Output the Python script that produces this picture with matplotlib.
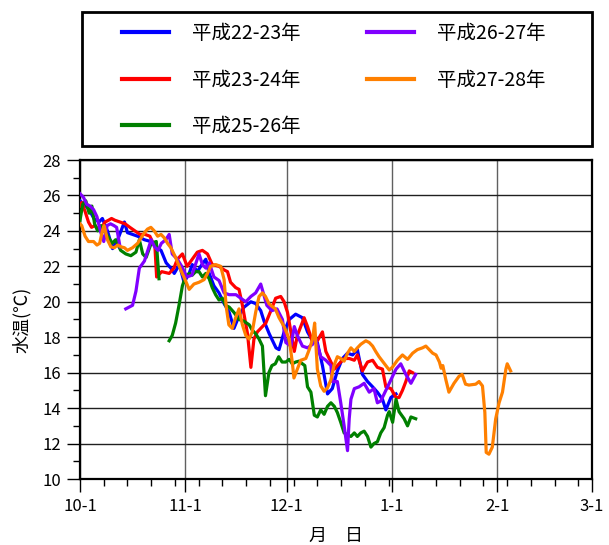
import numpy as np
import matplotlib
matplotlib.use('Agg')
import matplotlib.pyplot as plt
from matplotlib.lines import Line2D
from matplotlib.patches import Rectangle

plt.rcParams['font.family'] = ['Noto Sans CJK JP', 'DejaVu Sans']

# water temperature (deg C), x = days counted from 10-1, nan = missing days
h22_23 = [(0, 25.7), (1.2, 25.5), (2.7, 25.2), (4.1, 24.7), (5.6, 24.5), (6.6, 24.7),
          (8.1, 24.0), (9.6, 23.0), (11.1, 23.5), (13.1, 24.5), (14.0, 23.9), (15.5, 23.8),
          (17.0, 23.7), (19.0, 23.5), (20.9, 23.4), (22.4, 23.1), (23.9, 22.9), (25.4, 22.2),
          (26.8, 21.9), (27.8, 21.6), (29.3, 22.1), (30.7, 21.1), (32.2, 21.6), (33.1, 22.1),
          (34.6, 21.7), (35.6, 22.0), (37.1, 22.4), (38.1, 21.6), (39.5, 20.9), (41.0, 20.5),
          (42.5, 19.9), (44.0, 19.4), (45.4, 18.5), (46.9, 19.2), (48.4, 19.7), (50.4, 20.0),
          (51.8, 19.9), (53.3, 19.5), (54.3, 18.9), (55.8, 18.2), (57.8, 17.4), (58.7, 17.3),
          (60.2, 18.3), (61.7, 19.0), (63.6, 19.3), (65.6, 19.1), (67.1, 18.3), (68.6, 17.8),
          (70.0, 17.7), (71.5, 16.4), (73.0, 14.8), (74.4, 15.1), (75.9, 16.1), (77.4, 16.8),
          (78.9, 17.1), (80.4, 17.0), (81.8, 17.3), (83.3, 15.9), (84.8, 15.5), (86.3, 15.2),
          (87.7, 14.9), (89.2, 14.5), (90.2, 13.9), (91.7, 14.6), (93.2, 14.8)]

h23_24 = [(0, 25.4), (0.5, 25.6), (1.5, 25.1), (2.5, 24.5), (3.4, 24.2), (4.4, 24.3),
          (5.4, 24.1), (6.4, 24.2), (7.4, 24.5), (8.4, 24.6), (9.3, 24.7), (10.3, 24.6),
          (11.8, 24.5), (13.3, 24.4), (14.7, 24.2), (16.2, 24.0), (17.7, 23.8), (19.2, 23.8),
          (20.6, 23.7), (22.1, 23.1), (22.6, 21.4), (24.1, 21.7), (26.3, 21.6), (27.7, 21.9),
          (28.7, 22.4), (30.2, 22.7), (31.6, 22.0), (33.1, 22.4), (34.6, 22.8), (36.1, 22.9),
          (37.6, 22.7), (39.0, 22.1), (41.0, 22.0), (42.5, 21.8), (43.5, 21.7), (44.4, 21.1),
          (45.9, 20.8), (46.9, 20.7), (47.9, 19.8), (49.4, 18.2), (50.4, 16.3), (51.3, 17.9),
          (52.3, 18.3), (53.8, 18.6), (54.8, 18.8), (56.3, 19.5), (57.7, 20.2), (59.2, 20.3),
          (60.2, 20.0), (61.2, 19.4), (62.2, 18.3), (63.2, 17.2), (64.1, 18.1), (65.1, 18.6),
          (66.1, 19.1), (67.1, 18.6), (68.6, 17.7), (70.0, 17.8), (71.5, 18.3), (72.5, 17.2),
          (74.0, 16.6), (75.0, 16.2), (76.4, 16.5), (77.9, 16.8), (79.4, 16.8), (80.9, 16.7),
          (81.8, 17.0), (83.3, 16.1), (84.8, 16.6), (86.3, 16.7), (87.7, 16.3), (89.2, 16.2),
          (90.2, 15.2), (91.7, 15.1), (93.2, 14.6), (94.1, 14.6), (95.1, 15.0), (96.1, 15.5),
          (97.1, 16.1), (98.1, 16.0)]

h25_26 = [(0, 24.6), (0.8, 25.5), (1.7, 25.7), (2.7, 25.0), (3.5, 25.4), (4.3, 24.4),
          (5.2, 24.0), (6.2, 24.3), (7.5, 23.9), (9.5, 23.3), (10.5, 23.5), (12.0, 22.9),
          (13.5, 22.7), (15.0, 22.6), (16.5, 22.8), (17.5, 23.5), (18.5, 22.7), (19.5, 22.5),
          (21.0, 23.3), (22.5, 23.4), (23.3, 21.3), (24.8, np.nan),
          (26.3, 17.8), (27.2, 18.1), (28.2, 18.8), (29.2, 19.8), (30.2, 20.9), (31.1, 21.4),
          (32.2, 21.6), (33.1, 21.5), (34.1, 21.7), (35.1, 21.7), (36.1, 21.4), (37.1, 21.6),
          (38.1, 21.3), (39.0, 20.8), (40.0, 20.4), (41.0, 20.1), (42.0, 20.2), (42.9, 19.8),
          (44.0, 19.7), (45.4, 19.4), (46.9, 19.0), (48.4, 18.9), (49.9, 18.7), (50.8, 18.4),
          (51.8, 18.2), (52.8, 17.9), (53.8, 17.5), (54.7, 14.7), (55.7, 16.0), (56.6, 16.4),
          (57.6, 16.5), (58.6, 16.9), (59.6, 16.6), (60.7, 16.6), (61.7, 16.75), (62.6, 16.5),
          (63.6, 16.6), (64.6, 16.65), (65.6, 16.5), (66.3, 16.4), (67.1, 15.2), (68.1, 14.9),
          (69.1, 13.6), (70.0, 13.5), (71.0, 13.9), (72.0, 13.65), (73.0, 14.1), (74.0, 14.3),
          (75.0, 14.1), (75.9, 13.75), (76.9, 13.2), (77.9, 12.6), (78.9, 12.5), (79.9, 12.4),
          (80.9, 12.6), (81.8, 12.4), (82.8, 12.6), (83.8, 12.7), (84.8, 12.4), (85.8, 11.8),
          (86.7, 12.0), (87.7, 12.1), (88.7, 12.6), (89.7, 12.9), (90.7, 13.6), (91.2, 13.8),
          (92.2, 13.2), (93.2, 14.5), (94.1, 13.8), (95.6, 13.4), (96.6, 13.0), (97.6, 13.5),
          (99.0, 13.4)]

h26_27 = [(0, 26.1), (1, 25.9), (2, 25.5), (3, 25.4), (4, 25.2), (5, 24.8), (6, 24.0),
          (7, 23.4), (8, 24.3), (9, 24.4), (10, 24.3), (10.8, 24.2), (11.8, 23.1), (12.6, np.nan),
          (13.5, 19.6), (14.5, 19.7), (15.5, 19.8), (16.5, 20.6), (17.5, 21.9), (19.0, 22.3),
          (20.0, 22.9), (21.0, 23.5), (22.0, 23.1), (23.0, 22.9), (24.0, 23.3), (25.3, 23.5),
          (26.3, 23.8), (27.2, 22.7), (28.7, 22.4), (30.0, 22.0), (31.5, 21.4), (33.0, 21.5),
          (35.1, 22.7), (36.1, 22.1), (37.1, 21.9), (38.1, 22.2), (39.5, 21.4), (41.0, 21.2),
          (42.5, 20.5), (44.0, 20.4), (46.0, 20.4), (47.4, 20.2), (48.9, 20.0), (50.4, 20.3),
          (51.8, 20.5), (53.3, 21.0), (54.2, 20.4), (55.1, 19.8), (56.6, 19.5), (58.1, 19.6),
          (59.7, 19.0), (60.7, 17.7), (62.2, 17.5), (63.2, 18.6), (64.1, 18.1), (65.6, 17.5),
          (67.1, 17.4), (68.6, 17.6), (69.5, 17.9), (71.0, 16.9), (72.5, 16.7), (74.0, 16.4),
          (74.4, 15.5), (75.9, 15.5), (76.9, 14.3), (77.9, 13.0), (78.9, 11.6), (79.4, 13.4),
          (79.9, 14.5), (80.9, 15.1), (82.3, 15.2), (83.8, 15.4), (85.3, 14.9), (86.7, 15.1),
          (87.7, 14.3), (88.7, 14.4), (89.7, 14.8), (90.7, 15.2), (91.7, 15.6), (93.2, 16.2),
          (94.6, 16.5), (96.1, 15.9), (97.6, 15.4), (99.0, 15.9)]

h27_28 = [(0, 24.4), (0.5, 24.3), (1.5, 23.7), (2.5, 23.4), (4.0, 23.4), (5.0, 23.2),
          (5.8, 23.3), (6.6, 24.0), (7.1, 24.3), (8.1, 23.5), (9.1, 23.1), (10.1, 23.05),
          (11.1, 23.2), (12.1, 23.1), (13.1, 23.05), (14.0, 22.9), (15.5, 23.05), (17.0, 23.3),
          (18.0, 23.6), (19.0, 23.9), (19.9, 24.1), (20.9, 24.2), (21.9, 24.0), (22.9, 23.7),
          (23.9, 23.8), (24.9, 23.6), (25.8, 23.3), (26.8, 23.05), (28.2, 22.5), (29.7, 21.8),
          (31.1, 21.2), (32.2, 20.7), (33.6, 21.0), (35.1, 21.1), (36.6, 21.25), (37.6, 21.6),
          (38.5, 22.0), (40.0, 22.1), (41.5, 22.0), (42.5, 21.25), (43.1, 19.75), (43.9, 18.7),
          (44.9, 18.5), (45.9, 19.1), (46.9, 19.6), (47.9, 18.7), (48.9, 18.1), (49.9, 17.9),
          (50.8, 18.3), (51.8, 19.4), (52.8, 20.3), (53.8, 20.5), (54.7, 20.3), (55.7, 19.9),
          (56.6, 19.75), (57.6, 19.6), (58.7, 19.1), (60.2, 18.6), (61.7, 17.9), (62.6, 16.6),
          (63.1, 15.7), (64.1, 16.2), (65.1, 16.7), (66.6, 16.8), (67.6, 17.3), (68.6, 17.9),
          (69.2, 18.8), (69.6, 17.5), (70.0, 16.2), (71.0, 15.25), (72.0, 14.95), (73.0, 15.15),
          (74.0, 15.6), (74.9, 16.4), (75.9, 16.9), (76.9, 16.8), (77.9, 16.65), (78.9, 17.1),
          (79.9, 17.4), (80.9, 17.2), (81.8, 17.4), (82.8, 17.6), (84.3, 17.8), (85.3, 17.7),
          (86.3, 17.5), (87.2, 17.2), (88.2, 16.9), (89.2, 16.65), (90.2, 16.4), (91.2, 16.15),
          (92.1, 16.3), (93.6, 16.7), (95.1, 17.0), (96.6, 16.75), (98.1, 17.1), (99.5, 17.3),
          (101.0, 17.4), (102.0, 17.5), (103.0, 17.3), (104.0, 17.1), (105.0, 17.0), (106.0, 16.6),
          (106.5, 16.25), (107.0, 16.4), (107.9, 15.6), (108.8, 14.9), (110.3, 15.4), (111.8, 15.8),
          (112.7, 15.9), (113.7, 15.35), (114.7, 15.3), (116.7, 15.35), (117.7, 15.5), (118.7, 15.25),
          (119.4, 13.75), (119.8, 11.5), (120.6, 11.4), (121.6, 11.8), (122.6, 13.4), (123.6, 14.3),
          (124.6, 14.9), (125.6, 16.2), (126.0, 16.5), (127.0, 16.1)]

series = [h22_23, h23_24, h25_26, h26_27, h27_28]
labels = ['平成22-23年', '平成23-24年', '平成25-26年', '平成26-27年', '平成27-28年']
colors = ['#0000ff', '#ff0000', '#008000', '#8000ff', '#ff8000']

month_days = [0, 31, 61, 92, 123, 151]
month_labels = ['10-1', '11-1', '12-1', '1-1', '2-1', '3-1']

fig = plt.figure(figsize=(6.09, 5.45), dpi=100)
ax = fig.add_axes([80 / 609, 1 - 479 / 545, 512 / 609, 319 / 545])

for data, lab, col in zip(series, labels, colors):
    d = np.array(data, dtype=float)
    ax.plot(d[:, 0], d[:, 1], color=col, lw=2.3, label=lab, solid_joinstyle='round', zorder=3)

ax.set_xlim(0, 151)
ax.set_ylim(10, 28)
ax.set_xticks(month_days)
ax.set_xticklabels(month_labels)
ax.set_xticks(np.arange(0, 152, 7), minor=True)
ax.set_yticks(np.arange(10, 29, 2))
ax.set_yticks(np.arange(10, 29, 1), minor=True)

ax.grid(axis='y', which='major', color='#202020', lw=1.0)
ax.grid(axis='x', which='major', color='#606060', lw=1.0)
ax.set_axisbelow(True)

for sp in ax.spines.values():
    sp.set_linewidth(1.6)
    sp.set_color('black')

ax.tick_params(which='major', direction='out', length=9.5, width=1, labelsize=12, pad=4)
ax.tick_params(which='minor', direction='out', length=5, width=1)
ax.tick_params(top=False, right=False, which='both')

ax.set_ylabel('水温(℃)', fontsize=13)
ax.yaxis.set_label_coords(-0.096, 0.5)
ax.set_xlabel('月\u3000日', fontsize=13)
ax.xaxis.set_label_coords(0.5, -0.15)

# legend box above the plot
fig.patches.append(Rectangle((82 / 609, 1 - 146 / 545), 510 / 609, 134 / 545,
                             transform=fig.transFigure, fill=False, edgecolor='black', lw=2))
handles = [Line2D([], [], color=c, lw=3) for c in colors]
fig.legend(handles, labels, loc='center', bbox_to_anchor=(334 / 609, 1 - 80 / 545), ncol=2,
           frameon=False, fontsize=14, handlelength=2.4, handletextpad=1.2,
           columnspacing=3.4, labelspacing=1.3)

fig.savefig('out.png', dpi=100)
